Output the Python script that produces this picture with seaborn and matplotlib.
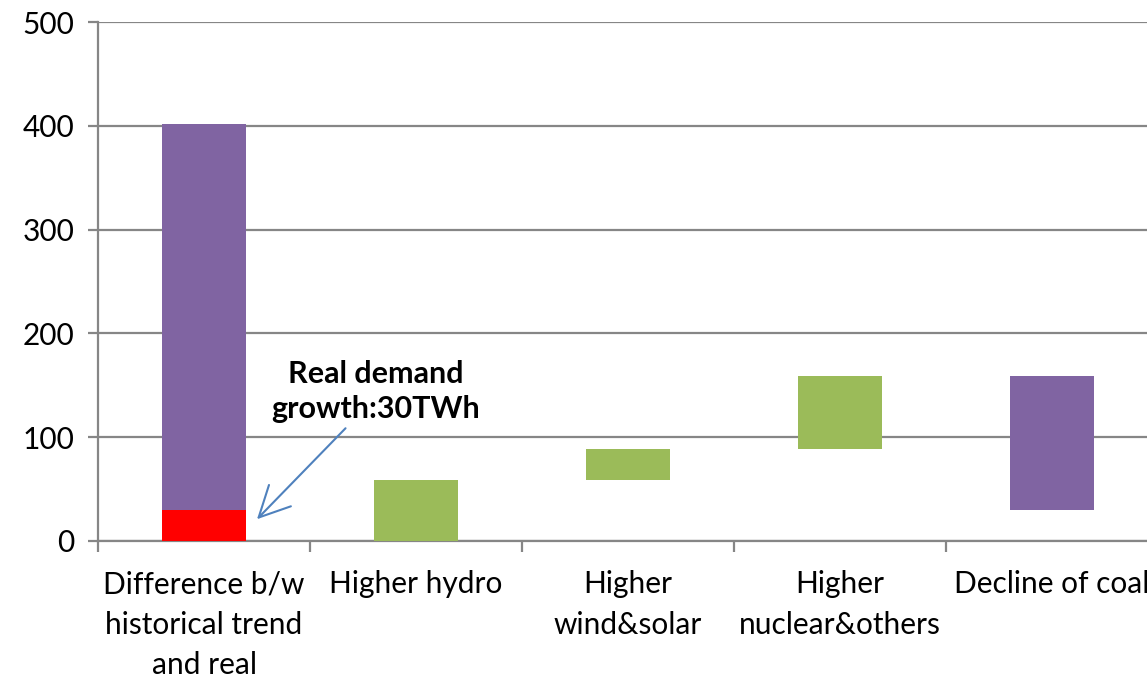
import numpy as np
import pandas as pd
import matplotlib
matplotlib.use("Agg")
import matplotlib.pyplot as plt
import seaborn as sns

categories = ["Difference b/w\nhistorical trend\nand real", "Higher hydro",
              "Higher\nwind&solar", "Higher\nnuclear&others", "Decline of coal"]
# waterfall segments: category, bottom, top, colour
seg_cat = [categories[0], categories[0], categories[1], categories[2], categories[3], categories[4]]
seg_bottom = [30, 0, 0, 59, 89, 30]
seg_top = [402, 30, 59, 89, 159, 159]
seg_color = ["#8064A2", "#FF0000", "#9BBB59", "#9BBB59", "#9BBB59", "#8064A2"]
y_ticks = [0, 100, 200, 300, 400, 500]

segs = pd.DataFrame({"cat": seg_cat, "bottom": seg_bottom, "top": seg_top, "color": seg_color})
segs["height"] = segs["top"] - segs["bottom"]

sns.set_style("white")
plt.rcParams["font.family"] = ["Lato", "DejaVu Sans"]
plt.rcParams["text.color"] = "black"
plt.rcParams["xtick.color"] = "black"
plt.rcParams["ytick.color"] = "black"

fig = plt.figure(figsize=(11.47, 6.78), dpi=100)
# axes run past the right edge, as in the reference (last label is cut)
ax = fig.add_axes([98 / 1147, 137 / 678, 1060 / 1147, 519 / 678])

for _, r in segs.iterrows():
    sns.barplot(x=[r["cat"]], y=[r["height"]], bottom=r["bottom"], order=categories,
                color=r["color"], width=0.4, saturation=1, linewidth=0, ax=ax, zorder=3)

gray = "#868686"
ax.set_ylim(0, 500)
ax.set_xlim(-0.5, len(categories) - 0.5)
ax.set_yticks(y_ticks)
ax.yaxis.grid(True, color=gray, lw=1.6, zorder=0)
ax.set_axisbelow(True)
for s in ["top", "right"]:
    ax.spines[s].set_visible(False)
for s in ["left", "bottom"]:
    ax.spines[s].set_color(gray)
    ax.spines[s].set_linewidth(1.6)

ax.set_xticks(np.arange(len(categories)))
ax.set_xticklabels(categories, fontsize=21.5, linespacing=1.55, va="top")
ax.set_xticks(np.arange(len(categories) + 1) - 0.5, minor=True)
ax.tick_params(axis="x", which="major", length=0, pad=21, bottom=True)
ax.tick_params(axis="x", which="minor", length=8, width=1.6, color=gray, bottom=True)
ax.tick_params(axis="y", length=7, width=1.6, color=gray, labelcolor="black",
               labelsize=21.5, pad=10, left=True)
ax.set_xlabel("")
ax.set_ylabel("")

ax.annotate("Real demand\ngrowth:30TWh", xy=(0.25, 21), xytext=(0.81, 144),
            ha="center", va="center", fontsize=22, fontweight="bold", linespacing=1.3,
            arrowprops=dict(arrowstyle="->,head_length=1.0,head_width=0.5",
                            color="#4F81BD", lw=1.5, shrinkA=2, shrinkB=0,
                            relpos=(0.38, 0.0)))

fig.savefig("out.png", dpi=100)
